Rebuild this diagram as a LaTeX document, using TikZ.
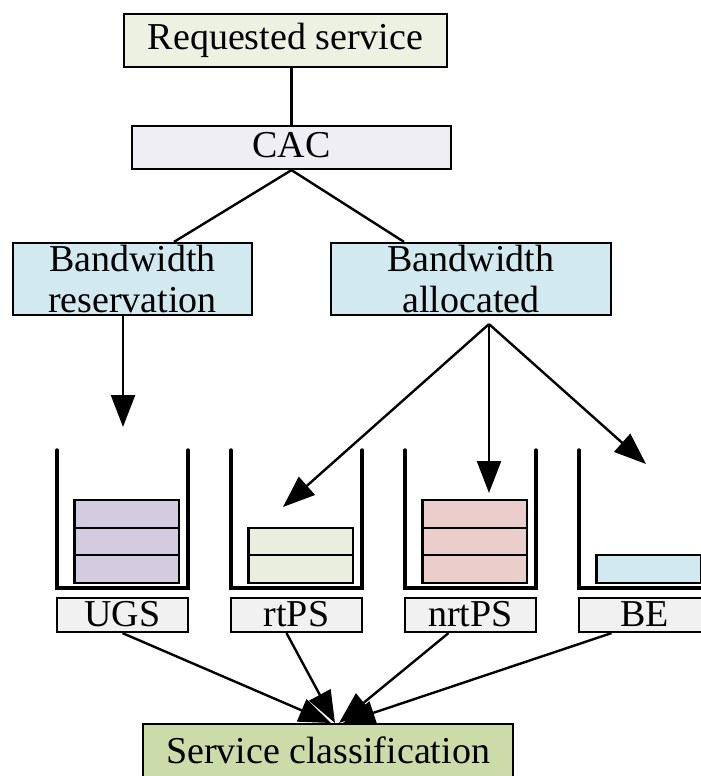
\documentclass[tikz,border=0pt]{standalone}
\usepackage{fontspec}
\setmainfont{Liberation Serif}
\usetikzlibrary{arrows.meta,positioning}

\definecolor{reqfill}{RGB}{236,241,225}
\definecolor{cacfill}{RGB}{239,238,244}
\definecolor{bwfill}{RGB}{210,234,239}
\definecolor{ugsfill}{RGB}{211,203,224}
\definecolor{rtfill}{RGB}{234,238,223}
\definecolor{nrtfill}{RGB}{235,205,204}
\definecolor{labfill}{RGB}{241,241,241}
\definecolor{clsfill}{RGB}{203,220,168}

\begin{document}
\begin{tikzpicture}[x=1pt,y=-1pt,
    every node/.style={font=\fontsize{38}{41}\selectfont},
    box/.style={draw,line width=2.2pt,inner sep=0pt},
    link/.style={line width=2.4pt},
    arr/.style={line width=2.4pt,-{Triangle[length=32pt,width=24pt]}},
    queue/.style={line width=3.4pt,line cap=round},
    pkt/.style={draw,line width=2.2pt}]
    \useasboundingbox (0,0) rectangle (701,776);
    \clip (0,0) rectangle (701,776);
    \node[box,fill=reqfill,minimum width=323pt,text height=36pt,text depth=17pt] (req) at (285.5,40.5) {Requested service};
    \node[box,fill=cacfill,minimum width=319pt,text height=31pt,text depth=12pt] (cac) at (291.5,147.5) {CAC};
    \node[box,fill=bwfill,minimum width=239pt,minimum height=72pt,align=center] (bwres) at (132.5,279) {Bandwidth\\reservation};
    \node[box,fill=bwfill,minimum width=280pt,minimum height=72pt,align=center] (bwall) at (471,279) {Bandwidth\\allocated};
    \foreach \i/\n/\c/\lab/\name in {0/3/ugsfill/UGS/ugs, 1/2/rtfill/rtPS/rtps, 2/3/nrtfill/nrtPS/nrtps, 3/1/bwfill/BE/be} {
        \draw[queue] (57+174*\i,450) -- (57+174*\i,588) -- (188+174*\i,588) -- (188+174*\i,450);
        \foreach \k in {1,...,\n}
            \draw[pkt,fill=\c] (74.5+174*\i,583-27.7*\k+27.7) rectangle (179+174*\i,583-27.7*\k);
        \node[box,fill=labfill,minimum width=131pt,text height=28pt,text depth=6pt] (\name) at (122.5+174*\i,615) {\lab};
    }
    \node[box,fill=clsfill,minimum width=370pt,text height=35pt,text depth=40pt,inner ysep=4pt,anchor=north] (cls) at (328,723) {Service classification};
    \coordinate (ugsin) at (123,427);
    \coordinate (rtin) at (283,507);
    \coordinate (nrtin) at (489,493);
    \coordinate (bein) at (646,464);
    \coordinate (fork) at ([xshift=18pt,yshift=-8pt]bwall.south);
    \draw[link] (req.south -| cac.north) -- (cac.north);
    \draw[link] (cac.south) -- ([xshift=41.5pt]bwres.north);
    \draw[link] (cac.south) -- ([xshift=-67pt]bwall.north);
    \draw[arr] ([xshift=-9.5pt]bwres.south) -- (ugsin);
    \draw[arr] (fork) -- (rtin);
    \draw[arr] (fork) -- (nrtin);
    \draw[arr] (fork) -- (bein);
    \draw[arr] (ugs.south) -- ([xshift=3pt]cls.north);
    \draw[arr] ([xshift=-10pt]rtps.south) -- ([xshift=7pt]cls.north);
    \draw[arr] ([xshift=-22pt]nrtps.south) -- ([xshift=11pt]cls.north);
    \draw[arr] ([xshift=-33pt]be.south) -- ([xshift=15pt]cls.north);
\end{tikzpicture}
\end{document}
